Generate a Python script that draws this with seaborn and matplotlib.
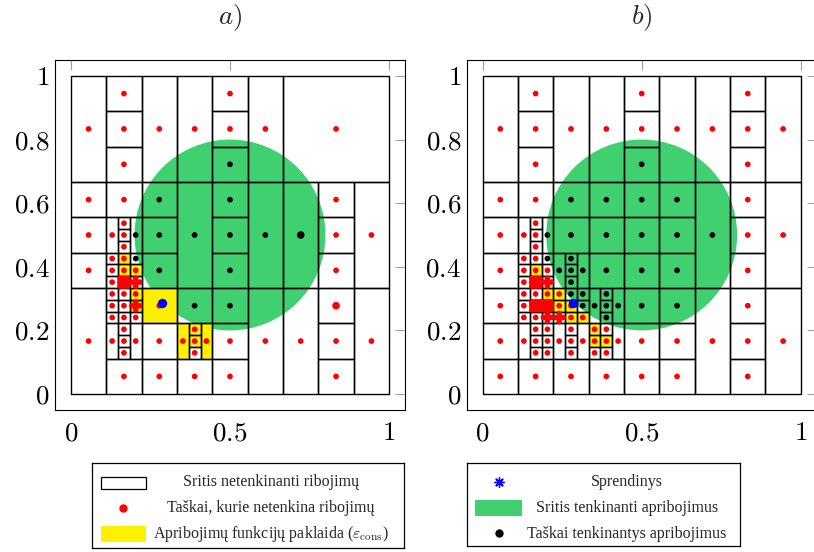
import matplotlib
matplotlib.use("Agg")
import matplotlib.pyplot as plt
from matplotlib.patches import Rectangle, Circle
from matplotlib.collections import PatchCollection
import seaborn as sns
import pandas as pd

sns.set_style("white")
plt.rcParams["mathtext.fontset"] = "cm"
plt.rcParams["font.family"] = ["Liberation Serif", "DejaVu Serif"]

N = 27  # cells are given in units of 1/27 of the unit square

# (x0, y0, w, h, kind): r = infeasible point, k = feasible point, y = eps_cons cell
left_cells = [
    (0, 18, 3, 9, "r"), (0, 15, 3, 3, "r"), (0, 12, 3, 3, "r"), (0, 9, 3, 3, "r"), (0, 0, 3, 9, "r"),
    (3, 24, 3, 3, "r"), (3, 21, 3, 3, "r"), (3, 18, 3, 3, "r"), (3, 15, 3, 3, "r"),
    (3, 12, 1, 3, "r"), (4, 14, 1, 1, "r"), (4, 13, 1, 1, "r"), (4, 12, 1, 1, "r"), (5, 12, 1, 3, "k"),
    (3, 11, 1, 1, "r"), (3, 10, 1, 1, "r"), (3, 9, 1, 1, "r"),
    (4, 11, 1, 1, "y"), (4, 10, 1, 1, "y"), (4, 9, 1, 1, "r"),
    (5, 11, 1, 1, "k"), (5, 10, 1, 1, "y"), (5, 9, 1, 1, "r"),
    (3, 8, 1, 1, "r"), (3, 7, 1, 1, "r"), (3, 6, 1, 1, "r"),
    (4, 8, 1, 1, "r"), (4, 7, 1, 1, "r"), (4, 6, 1, 1, "r"),
    (5, 8, 1, 1, "y"), (5, 7, 1, 1, "y"), (5, 6, 1, 1, "r"),
    (3, 3, 1, 3, "r"), (4, 5, 1, 1, "r"), (4, 4, 1, 1, "r"), (4, 3, 1, 1, "r"), (5, 3, 1, 3, "r"),
    (3, 0, 3, 3, "r"),
    (6, 18, 3, 9, "r"), (6, 15, 3, 3, "k"), (6, 12, 3, 3, "k"), (6, 9, 3, 3, "k"),
    (6, 6, 3, 3, "y"), (6, 3, 3, 3, "r"), (6, 0, 3, 3, "r"),
    (9, 18, 3, 9, "r"), (9, 9, 3, 9, "k"), (9, 6, 3, 3, "k"),
    (9, 3, 1, 3, "y"), (10, 5, 1, 1, "y"), (10, 4, 1, 1, "y"), (10, 3, 1, 1, "r"), (11, 3, 1, 3, "y"),
    (9, 0, 3, 3, "r"),
    (12, 24, 3, 3, "r"), (12, 21, 3, 3, "r"), (12, 18, 3, 3, "k"),
    (12, 15, 3, 3, "k"), (12, 12, 3, 3, "k"), (12, 9, 3, 3, "k"),
    (12, 6, 3, 3, "k"), (12, 3, 3, 3, "r"), (12, 0, 3, 3, "r"),
    (15, 18, 3, 9, "r"), (15, 9, 3, 9, "k"), (15, 0, 3, 9, "r"),
    (18, 18, 9, 9, "r"), (18, 9, 3, 9, "k"), (18, 0, 3, 9, "r"),
    (21, 15, 3, 3, "r"), (21, 12, 3, 3, "r"), (21, 9, 3, 3, "r"),
    (21, 6, 3, 3, "r"), (21, 3, 3, 3, "r"), (21, 0, 3, 3, "r"),
    (24, 9, 3, 9, "r"), (24, 0, 3, 9, "r"),
]

right_cells = [
    (0, 18, 3, 9, "r"), (0, 15, 3, 3, "r"), (0, 12, 3, 3, "r"), (0, 9, 3, 3, "r"),
    (0, 6, 3, 3, "r"), (0, 3, 3, 3, "r"), (0, 0, 3, 3, "r"),
    (3, 24, 3, 3, "r"), (3, 21, 3, 3, "r"), (3, 18, 3, 3, "r"), (3, 15, 3, 3, "r"),
    (3, 12, 1, 3, "r"), (4, 14, 1, 1, "r"), (4, 13, 1, 1, "r"), (4, 12, 1, 1, "r"), (5, 12, 1, 3, "k"),
    (3, 11, 1, 1, "r"), (3, 10, 1, 1, "r"), (3, 9, 1, 1, "r"),
    (4, 11, 1, 1, "r"), (4, 10, 1, 1, "y"), (4, 9, 1, 1, "r"),
    (5, 11, 1, 1, "k"), (5, 10, 1, 1, "r"), (5, 9, 1, 1, "r"),
    (3, 8, 1, 1, "r"), (3, 7, 1, 1, "r"), (3, 6, 1, 1, "r"),
    (4, 8, 1, 1, "r"), (4, 7, 1, 1, "r"), (4, 6, 1, 1, "r"),
    (5, 8, 1, 1, "y"), (5, 7, 1, 1, "r"), (5, 6, 1, 1, "r"),
    (3, 3, 1, 3, "r"), (4, 5, 1, 1, "r"), (4, 4, 1, 1, "r"), (4, 3, 1, 1, "r"),
    (5, 5, 1, 1, "r"), (5, 4, 1, 1, "r"), (5, 3, 1, 1, "r"),
    (3, 0, 3, 3, "r"),
    (6, 18, 3, 9, "r"), (6, 15, 3, 3, "k"), (6, 12, 3, 3, "k"),
    (6, 9, 1, 3, "k"), (7, 11, 1, 1, "k"), (7, 10, 1, 1, "k"), (7, 9, 1, 1, "k"), (8, 9, 1, 3, "k"),
    (6, 8, 1, 1, "y"), (6, 7, 1, 1, "y"), (6, 6, 1, 1, "r"),
    (7, 8, 1, 1, "k"), (7, 7, 1, 1, "y"), (7, 6, 1, 1, "y"),
    (8, 8, 1, 1, "k"), (8, 7, 1, 1, "k"), (8, 6, 1, 1, "y"),
    (6, 3, 1, 3, "r"), (7, 5, 1, 1, "r"), (7, 4, 1, 1, "r"), (7, 3, 1, 1, "r"), (8, 3, 1, 3, "r"),
    (6, 0, 3, 3, "r"),
    (9, 18, 3, 9, "r"), (9, 15, 3, 3, "k"), (9, 12, 3, 3, "k"), (9, 9, 3, 3, "k"),
    (9, 6, 1, 3, "k"), (10, 8, 1, 1, "k"), (10, 7, 1, 1, "k"), (10, 6, 1, 1, "k"), (11, 6, 1, 3, "k"),
    (9, 5, 1, 1, "y"), (9, 4, 1, 1, "y"), (9, 3, 1, 1, "r"),
    (10, 5, 1, 1, "r"), (10, 4, 1, 1, "y"), (10, 3, 1, 1, "r"), (11, 3, 1, 3, "r"),
    (9, 0, 3, 3, "r"),
    (12, 24, 3, 3, "r"), (12, 21, 3, 3, "r"), (12, 18, 3, 3, "k"),
    (12, 15, 3, 3, "k"), (12, 12, 3, 3, "k"), (12, 9, 3, 3, "k"),
    (12, 6, 3, 3, "k"), (12, 3, 3, 3, "r"), (12, 0, 3, 3, "r"),
    (15, 18, 3, 9, "r"), (15, 15, 3, 3, "k"), (15, 12, 3, 3, "k"), (15, 9, 3, 3, "k"),
    (15, 6, 3, 3, "k"), (15, 3, 3, 3, "r"), (15, 0, 3, 3, "r"),
    (18, 18, 3, 9, "r"), (18, 9, 3, 9, "k"), (18, 0, 3, 9, "r"),
    (21, 24, 3, 3, "r"), (21, 21, 3, 3, "r"), (21, 18, 3, 3, "r"),
    (21, 15, 3, 3, "r"), (21, 12, 3, 3, "r"), (21, 9, 3, 3, "r"),
    (21, 6, 3, 3, "r"), (21, 3, 3, 3, "r"), (21, 0, 3, 3, "r"),
    (24, 18, 3, 9, "r"), (24, 9, 3, 9, "r"), (24, 0, 3, 9, "r"),
]

# dense clusters of infeasible points (centres, 1/27 units): 3x3 blocks and crosses
left_blocks = [(4.5, 9.5)]
left_crosses = [(5.5, 9.5), (5.5, 7.5)]
right_blocks = [(4.5, 9.5), (4.5, 7.5), (5.5, 7.5)]
right_crosses = [(5.5, 9.5), (5.5, 6.5), (6.5, 6.5)]
left_doubled = [(22.5, 7.5, "r"), (19.5, 13.5, "k")]
right_doubled = []

solution = (0.285, 0.285)
circle_center = (0.5, 0.5)
circle_radius = 0.3

xticks = [0, 0.5, 1]
yticks = [0, 0.2, 0.4, 0.6, 0.8, 1]
titles = [r"$a)$", r"$b)$"]
legend_left = ["Sritis netenkinanti ribojimų", "Taškai, kurie netenkina ribojimų",
               r"Apribojimų funkcijų paklaida ($\varepsilon_{\rm cons}$)"]
legend_right = ["Sprendinys", "Sritis tenkinanti apribojimus", "Taškai tenkinantys apribojimus"]

RED, GREEN, YELLOW, BLUE = "#ff0000", "#40d070", "#fff000", "#0000ff"
palette = {"r": RED, "k": "black"}


def point_table(cells, blocks, crosses):
    rows = [((x0 + w / 2) / N, (y0 + h / 2) / N, "k" if k == "k" else "r") for x0, y0, w, h, k in cells]
    d = 1 / 3
    for cx, cy in blocks:
        rows += [((cx + i * d) / N, (cy + j * d) / N, "r") for i in (-1, 0, 1) for j in (-1, 0, 1)]
    for cx, cy in crosses:
        rows += [((cx + i * d) / N, (cy + j * d) / N, "r") for i, j in ((0, 0), (-1, 0), (1, 0), (0, -1), (0, 1))]
    return pd.DataFrame(rows, columns=["x", "y", "kind"])


def draw_panel(ax, cells, blocks, crosses, doubled, title):
    ax.add_patch(Circle(circle_center, circle_radius, facecolor=GREEN, edgecolor="none", zorder=1))
    yel = [Rectangle((x0 / N, y0 / N), w / N, h / N) for x0, y0, w, h, k in cells if k == "y"]
    ax.add_collection(PatchCollection(yel, facecolor=YELLOW, edgecolor="none", zorder=2))
    rects = [Rectangle((x0 / N, y0 / N), w / N, h / N) for x0, y0, w, h, k in cells]
    ax.add_collection(PatchCollection(rects, facecolor="none", edgecolor="black", linewidth=1.0, zorder=3))

    pts = point_table(cells, blocks, crosses)
    sns.scatterplot(data=pts, x="x", y="y", hue="kind", palette=palette, s=17, linewidth=0,
                    legend=False, ax=ax, zorder=4)
    if doubled:
        dd = pd.DataFrame([(x / N, y / N, k) for x, y, k in doubled], columns=["x", "y", "kind"])
        sns.scatterplot(data=dd, x="x", y="y", hue="kind", palette=palette, s=30, linewidth=0,
                        legend=False, ax=ax, zorder=4)
    ax.scatter([solution[0]], [solution[1]], s=46, color=BLUE, linewidth=0, zorder=5)

    ax.set_xlim(-0.05, 1.05)
    ax.set_ylim(-0.05, 1.05)
    ax.set_xticks(xticks)
    ax.set_xticklabels([f"${t:g}$" for t in xticks])
    ax.set_yticks(yticks)
    ax.set_yticklabels([f"${t:g}$" for t in yticks])
    ax.set_xlabel("")
    ax.set_ylabel("")
    ax.tick_params(direction="in", length=7, width=0.8, color="#a0a0a0", top=True, right=True,
                   labelsize=19.5, labelcolor="black")
    ax.tick_params(axis="x", pad=8)
    ax.tick_params(axis="y", pad=4)
    for sp in ax.spines.values():
        sp.set_color("black")
        sp.set_linewidth(0.8)
    ax.text(0.5, 1.12, title, transform=ax.transAxes, ha="center", va="center", fontsize=19.5)


fig = plt.figure(figsize=(8.14, 5.52), dpi=100)
W, H = 814, 552
ax1 = fig.add_axes([55 / W, (H - 410) / H, 350 / W, 350 / H])
ax2 = fig.add_axes([466.7 / W, (H - 410) / H, 350 / W, 350 / H])
draw_panel(ax1, left_cells, left_blocks, left_crosses, left_doubled, titles[0])
draw_panel(ax2, right_cells, right_blocks, right_crosses, right_doubled, titles[1])


def legend_box(left, right, top, bottom):
    lg = fig.add_axes([left / W, (H - bottom) / H, (right - left) / W, (bottom - top) / H])
    lg.set_xlim(0, right - left)
    lg.set_ylim(bottom - top, 0)
    lg.set_xticks([])
    lg.set_yticks([])
    for sp in lg.spines.values():
        sp.set_color("black")
        sp.set_linewidth(0.9)
    return lg


lg1 = legend_box(91.7, 404, 463, 548)
lg1.add_patch(Rectangle((9, 13.7), 45, 12.6, facecolor="white", edgecolor="black", linewidth=0.9))
lg1.scatter([31], [45.3], s=36, color=RED, linewidth=0)
lg1.add_patch(Rectangle((9, 63), 45, 15.7, facecolor=YELLOW, edgecolor="none"))
for txt, yy in zip(legend_left, [18.7, 45.3, 71]):
    lg1.text(179, yy, txt, ha="center", va="center", fontsize=11.5)

lg2 = legend_box(466.7, 740, 463, 546)
lg2.scatter([32.6], [18.7], s=45, marker=(8, 2, 0), color=BLUE, linewidth=1.0)
lg2.add_patch(Rectangle((8.3, 37), 46.7, 16, facecolor=GREEN, edgecolor="none"))
lg2.scatter([32.6], [69.7], s=36, color="black", linewidth=0)
for txt, yy in zip(legend_right, [18.7, 45.3, 71]):
    lg2.text(160, yy, txt, ha="center", va="center", fontsize=11.5)

fig.savefig("out.png", dpi=100)
